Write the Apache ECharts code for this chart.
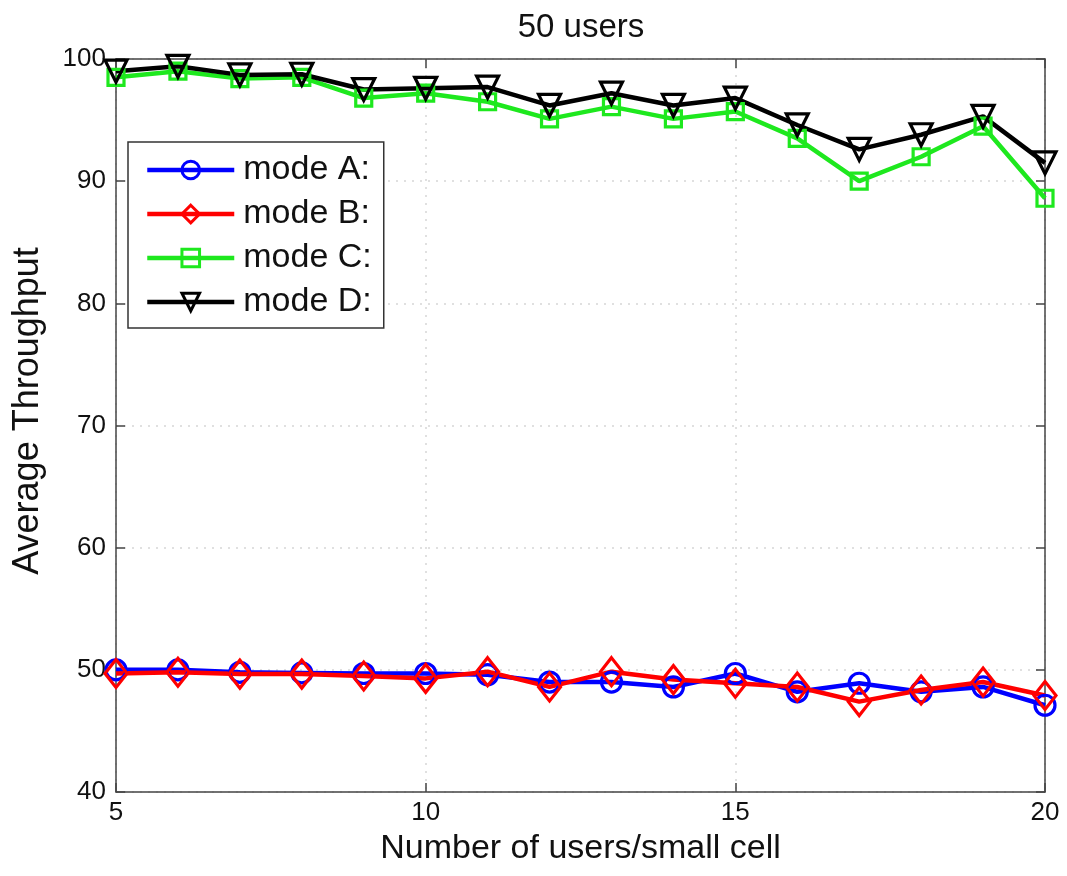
<!DOCTYPE html>
<html>
<head>
<meta charset="utf-8">
<script src="https://cdn.jsdelivr.net/npm/echarts@6/dist/echarts.min.js"></script>
<style>
html,body{margin:0;padding:0;background:#fff;}
#chart{width:1067px;height:876px;}
</style>
</head>
<body>
<div id="chart"></div>
<script>
var xValues = [5, 6, 7, 8, 9, 10, 11, 12, 13, 14, 15, 16, 17, 18, 19, 20];
var modeA = [50.0, 50.0, 49.8, 49.75, 49.7, 49.7, 49.6, 49.0, 49.0, 48.6, 49.7, 48.2, 48.9, 48.2, 48.6, 47.1];
var modeB = [49.7, 49.8, 49.65, 49.65, 49.5, 49.3, 49.85, 48.6, 49.85, 49.2, 48.9, 48.6, 47.4, 48.35, 49.0, 47.9];
var modeC = [98.5, 99.0, 98.4, 98.5, 96.8, 97.2, 96.5, 95.1, 96.1, 95.1, 95.7, 93.5, 90.0, 92.0, 94.5, 88.6];
var modeD = [99.0, 99.4, 98.7, 98.75, 97.5, 97.6, 97.7, 96.2, 97.2, 96.2, 96.8, 94.6, 92.6, 93.8, 95.3, 91.5];
var seriesNames = ['mode A:', 'mode B:', 'mode C:', 'mode D:'];
var xTicks = [5, 10, 15, 20];
var yTicks = [40, 50, 60, 70, 80, 90, 100];
var titleText = '50 users';
var xName = 'Number of users/small cell';
var yName = 'Average Throughput';

var FONT = '"Liberation Sans", Arial, Helvetica, sans-serif';
function pairs(ys){ return xValues.map(function(x,i){ return [x, ys[i]]; }); }

var axisColor = '#444';
function mkSeries(name, data, color, symbol, size, rotate){
  return {
    name: name, type: 'line', data: pairs(data),
    symbol: symbol, symbolSize: size, symbolRotate: rotate || 0,
    showAllSymbol: true,
    lineStyle: {color: color, width: 4.5},
    itemStyle: {color: 'rgba(255,255,255,0)', borderColor: color, borderWidth: 3.2},
    emphasis: {disabled: true},
    animation: false
  };
}
var colors = ['#0000ff', '#ff0000', '#1ee81e', '#000000'];
var legendData = seriesNames.map(function(n, i){
  return {name: n, lineStyle: {width: 4.5, color: colors[i]},
          itemStyle: {color: 'rgba(255,255,255,0)', borderColor: colors[i], borderWidth: 3}};
});

var chart = echarts.init(document.getElementById('chart'));
chart.setOption({
  backgroundColor: '#fff',
  animation: false,
  title: {
    text: titleText, left: 576, top: 6, textAlign: 'center',
    textStyle: {fontFamily: FONT, fontSize: 33, fontWeight: 'normal', color: '#111'}
  },
  graphic: [{
    type: 'text', x: 28, y: 411, rotation: Math.PI / 2,
    style: {text: yName, font: '36px ' + FONT, fill: '#111', textAlign: 'center', textVerticalAlign: 'middle'}
  }],
  grid: {left: 116, right: 22, top: 59, bottom: 84, containLabel: false},
  legend: {
    data: legendData,
    orient: 'vertical', left: 128, top: 142,
    backgroundColor: '#fff', borderColor: '#333', borderWidth: 1.5,
    padding: [11, 12, 9, 17],
    itemWidth: 87, itemHeight: 22, itemGap: 10,
    textStyle: {fontFamily: FONT, fontSize: 34, lineHeight: 34, color: '#111', padding: [0,0,0,4]}
  },
  xAxis: [{
    type: 'value', min: 5, max: 20, interval: 5,
    name: xName, nameLocation: 'middle', nameGap: 40,
    nameTextStyle: {fontFamily: FONT, fontSize: 34, color: '#111'},
    axisLine: {show: true, lineStyle: {color: axisColor, width: 1.5}},
    axisTick: {show: true, inside: true, length: 9, lineStyle: {color: axisColor, width: 1.5}},
    axisLabel: {fontFamily: FONT, fontSize: 26, color: '#111', margin: 8,
      formatter: function(v){ return xTicks.indexOf(v) >= 0 ? String(v) : ''; }},
    splitLine: {show: true, lineStyle: {color: '#d6d6d6', type: [2, 6], width: 1.5}}
  }, {
    type: 'value', min: 5, max: 20, interval: 5, position: 'top',
    axisLine: {show: true, lineStyle: {color: axisColor, width: 1.5}},
    axisTick: {show: true, inside: true, length: 9, lineStyle: {color: axisColor, width: 1.5}},
    axisLabel: {show: false}, splitLine: {show: false}
  }],
  yAxis: [{
    type: 'value', min: 40, max: 100, interval: 10,
    axisLine: {show: true, lineStyle: {color: axisColor, width: 1.5}},
    axisTick: {show: true, inside: true, length: 9, lineStyle: {color: axisColor, width: 1.5}},
    axisLabel: {fontFamily: FONT, fontSize: 26, color: '#111', margin: 10,
      formatter: function(v){ return yTicks.indexOf(v) >= 0 ? String(v) : ''; }},
    splitLine: {show: true, lineStyle: {color: '#d6d6d6', type: [2, 6], width: 1.5}}
  }, {
    type: 'value', min: 40, max: 100, interval: 10, position: 'right',
    axisLine: {show: true, lineStyle: {color: axisColor, width: 1.5}},
    axisTick: {show: true, inside: true, length: 9, lineStyle: {color: axisColor, width: 1.5}},
    axisLabel: {show: false}, splitLine: {show: false}
  }],
  series: [
    mkSeries(seriesNames[0], modeA, colors[0], 'circle', 20),
    mkSeries(seriesNames[1], modeB, colors[1], 'diamond', [22, 28]),
    mkSeries(seriesNames[2], modeC, colors[2], 'rect', 16),
    mkSeries(seriesNames[3], modeD, colors[3], 'triangle', 22, 180)
  ]
});
</script>
</body>
</html>
